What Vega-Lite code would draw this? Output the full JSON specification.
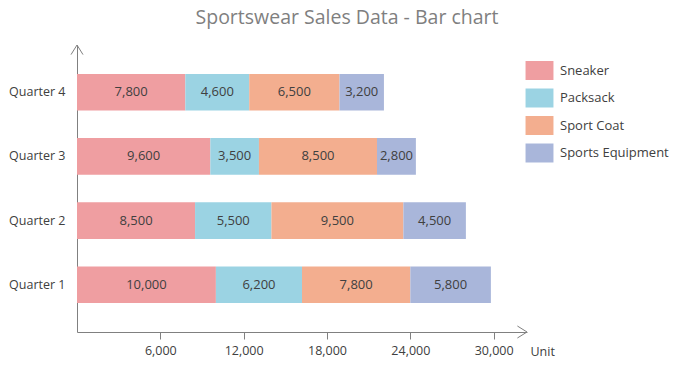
{
  "$schema": "https://vega.github.io/schema/vega-lite/v6.json",
  "width": 450,
  "height": 287,
  "autosize": "none",
  "padding": {"left": 77, "top": 45, "right": 148, "bottom": 38},
  "title": {
    "text": "Sportswear Sales Data - Bar chart",
    "fontSize": 19.5,
    "fontWeight": "normal",
    "color": "#7f7f7f",
    "anchor": "middle",
    "dx": 45,
    "offset": 15
  },
  "config": {
    "font": "Open Sans",
    "view": {"stroke": null}
  },
  "resolve": {"scale": {"y": "independent"}, "axis": {"y": "independent"}},
  "layer": [
    {
      "data": {
        "values": [
          {"quarter": "Quarter 4", "product": "Sneaker", "ord": 1, "value": 7800},
          {"quarter": "Quarter 4", "product": "Packsack", "ord": 2, "value": 4600},
          {"quarter": "Quarter 4", "product": "Sport Coat", "ord": 3, "value": 6500},
          {"quarter": "Quarter 4", "product": "Sports Equipment", "ord": 4, "value": 3200},
          {"quarter": "Quarter 3", "product": "Sneaker", "ord": 1, "value": 9600},
          {"quarter": "Quarter 3", "product": "Packsack", "ord": 2, "value": 3500},
          {"quarter": "Quarter 3", "product": "Sport Coat", "ord": 3, "value": 8500},
          {"quarter": "Quarter 3", "product": "Sports Equipment", "ord": 4, "value": 2800},
          {"quarter": "Quarter 2", "product": "Sneaker", "ord": 1, "value": 8500},
          {"quarter": "Quarter 2", "product": "Packsack", "ord": 2, "value": 5500},
          {"quarter": "Quarter 2", "product": "Sport Coat", "ord": 3, "value": 9500},
          {"quarter": "Quarter 2", "product": "Sports Equipment", "ord": 4, "value": 4500},
          {"quarter": "Quarter 1", "product": "Sneaker", "ord": 1, "value": 10000},
          {"quarter": "Quarter 1", "product": "Packsack", "ord": 2, "value": 6200},
          {"quarter": "Quarter 1", "product": "Sport Coat", "ord": 3, "value": 7800},
          {"quarter": "Quarter 1", "product": "Sports Equipment", "ord": 4, "value": 5800}
        ]
      },
      "transform": [
        {"stack": "value", "groupby": ["quarter"], "sort": [{"field": "ord", "order": "ascending"}], "as": ["v0", "v1"]},
        {"calculate": "(datum.v0 + datum.v1) / 2", "as": "mid"}
      ],
      "encoding": {
        "y": {
          "field": "quarter",
          "type": "nominal",
          "sort": ["Quarter 4", "Quarter 3", "Quarter 2", "Quarter 1"],
          "scale": {"paddingInner": 0.43, "paddingOuter": 0.45},
          "axis": {
            "title": null,
            "ticks": false,
            "domainColor": "#808080",
            "labelColor": "#404040",
            "labelFontSize": 12.5,
            "labelPadding": 12
          }
        }
      },
      "layer": [
        {
          "mark": {"type": "bar"},
          "encoding": {
            "x": {
              "field": "v0",
              "type": "quantitative",
              "scale": {"domain": [0, 32400], "nice": false},
              "axis": {
                "title": "Unit",
                "titleFontWeight": "normal",
                "titleFontSize": 12.5,
                "titleColor": "#404040",
                "titleAlign": "left",
                "titleBaseline": "middle",
                "titleX": 453,
                "titleY": 19,
                "values": [6000, 12000, 18000, 24000, 30000],
                "labelExpr": "format(datum.value, ',')",
                "grid": false,
                "domainColor": "#808080",
                "tickColor": "#808080",
                "tickSize": 7,
                "labelColor": "#404040",
                "labelFontSize": 12.5,
                "labelPadding": 5
              }
            },
            "x2": {"field": "v1"},
            "color": {
              "field": "product",
              "type": "nominal",
              "sort": ["Sneaker", "Packsack", "Sport Coat", "Sports Equipment"],
              "scale": {
                "domain": ["Sneaker", "Packsack", "Sport Coat", "Sports Equipment"],
                "range": ["#EF9EA1", "#9BD3E3", "#F3AE8F", "#A9B6DA"]
              },
              "legend": {
                "title": null,
                "orient": "none",
                "legendX": 453,
                "legendY": 16,
                "symbolType": "M-1.47,-1H1.47V1H-1.47Z",
                "symbolSize": 361,
                "symbolStrokeWidth": 0,
                "symbolOpacity": 1,
                "rowPadding": 8.5,
                "labelOffset": 11,
                "labelFontSize": 13,
                "labelColor": "#404040"
              }
            }
          }
        },
        {
          "mark": {"type": "text", "fontSize": 13, "color": "#404040"},
          "encoding": {
            "x": {"field": "mid", "type": "quantitative"},
            "text": {"field": "value", "type": "quantitative", "format": ","}
          }
        }
      ]
    },
    {
      "data": {"values": [{"px": 32400, "py": 0}]},
      "mark": {"type": "point", "shape": "M-1.6,-1L0,0L-1.6,1", "filled": false, "size": 144, "color": "#808080", "strokeWidth": 1, "opacity": 1},
      "encoding": {
        "x": {"field": "px", "type": "quantitative"},
        "y": {"field": "py", "type": "quantitative", "scale": {"domain": [0, 1]}, "axis": null}
      }
    },
    {
      "data": {"values": [{"px": 0, "py": 1}]},
      "mark": {"type": "point", "shape": "M-1,1.6L0,0L1,1.6", "filled": false, "size": 144, "color": "#808080", "strokeWidth": 1, "opacity": 1},
      "encoding": {
        "x": {"field": "px", "type": "quantitative"},
        "y": {"field": "py", "type": "quantitative", "scale": {"domain": [0, 1]}, "axis": null}
      }
    }
  ]
}
